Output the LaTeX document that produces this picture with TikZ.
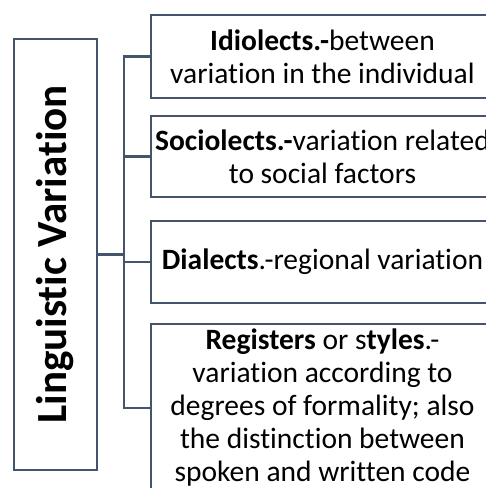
\documentclass[tikz,border=0pt]{standalone}
\usepackage{fontspec}
\setmainfont[Ligatures=NoCommon]{Carlito}
\usepackage{tikz}
\definecolor{slate}{HTML}{44546A}

\begin{document}
\begin{tikzpicture}[x=1pt,y=-1pt, line width=2.5pt,
  box/.style={draw=slate, rectangle, align=center, inner sep=0pt,
    font=\fontsize{29.5}{33}\selectfont},
  sub/.style={box, minimum width=343pt},
  link/.style={draw=slate}]
      \useasboundingbox (0,0) rectangle (486,488);
      \clip (0,0) rectangle (486,488);
      \node [box,rotate=90,minimum width=431pt,minimum height=83pt,
        font=\fontsize{43}{50}\selectfont\bfseries] (lv) at (55.5,254.5) {Linguistic Variation};
      \node [sub,minimum height=83pt] (idio) at (322.5,56.5)
        {\textbf{Idiolects.-}between\\variation in the individual};
      \node [sub,minimum height=81pt] (soc) at (322.5,156.5)
        {\textbf{Sociolects.-}variation related\\to social factors};
      \node [sub,minimum height=82pt] (dia) at (322.5,262)
        {\textbf{Dialects}.-regional variation};
      \node [sub,minimum height=168pt] (reg) at (322.5,408)
        {\textbf{Registers} or s\textbf{tyles}.-\\variation according to\\degrees of formality; also\\the distinction between\\spoken and written code};
      \coordinate (bus) at (124,0);
      \path [link]
      (idio.west) -| (bus |- reg.west) -- (reg.west)
      (soc.west) -- (soc.west -| bus)
      (dia.west) -- (dia.west -| bus)
      (lv.south) -- (lv.south -| bus)
      ;
\end{tikzpicture}
\end{document}
